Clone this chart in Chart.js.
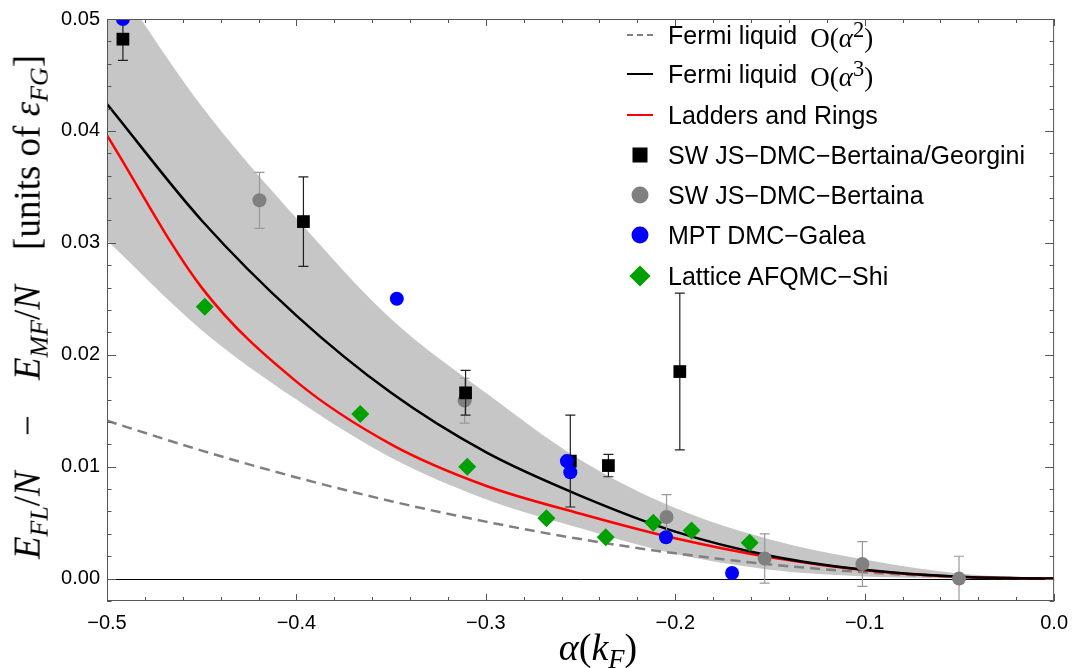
<!DOCTYPE html>
<html>
<head>
<meta charset="utf-8">
<script src="https://cdn.jsdelivr.net/npm/chart.js@4.4.0/dist/chart.umd.min.js"></script>
<style>
  body { margin: 0; background: #fff; }
  #wrap { position: relative; width: 1078px; height: 668px; overflow: hidden; }
  #chart { position: absolute; left: 0; top: 0; }
  .math { font-family: "Liberation Serif", "DejaVu Serif", serif; }
  .math sub { font-size: 0.7em; vertical-align: -0.3em; }
  .math sup { font-size: 0.7em; vertical-align: 0.6em; line-height: 0; }
  .gap { display: inline-block; width: 0.95em; }
  #ytitle { position: absolute; left: 30px; top: 307px; transform: translate(-50%, -50%) rotate(-90deg);
            white-space: nowrap; font-size: 37px; }
  #xtitle { position: absolute; left: 598px; top: 650px; transform: translate(-50%, -50%);
            white-space: nowrap; font-size: 38px; }
  .leg { position: absolute; left: 627px; height: 30px; display: flex; align-items: center;
         font-family: "Liberation Sans", Arial, sans-serif; font-size: 25px; color: #000; white-space: nowrap; }
  .sw { width: 26px; height: 30px; position: relative; margin-right: 15px; flex: none; }
  .sw .ln { position: absolute; left: 0; top: 14px; width: 26px; height: 0; border-top: 2.5px solid #000; }
  .sw .mk { position: absolute; left: 50%; top: 50%; transform: translate(-50%, -50%); }
  .leg .m { font-family: "Liberation Serif", "DejaVu Serif", serif; font-size: 27px; margin-left: 13px; }
</style>
</head>
<body>
<div id="wrap">
  <canvas id="chart" width="1078" height="668"></canvas>

  <div id="ytitle" class="math"><i>E</i><sub><i>FL</i></sub>/<i>N</i><span class="gap"></span>&minus;<span class="gap"></span><i>E</i><sub><i>MF</i></sub>/<i>N</i><span class="gap"></span>[units of <i>&epsilon;</i><sub><i>FG</i></sub>]</div>
  <div id="xtitle" class="math"><i>&alpha;</i>(<i>k</i><sub><i>F</i></sub>)</div>

  <div class="leg" style="top:20px"><span class="sw"><span class="ln" style="border-top:2.5px dashed #808080"></span></span>Fermi liquid<span class="m">O(<i>&alpha;</i><sup>2</sup>)</span></div>
  <div class="leg" style="top:59px"><span class="sw"><span class="ln"></span></span>Fermi liquid<span class="m">O(<i>&alpha;</i><sup>3</sup>)</span></div>
  <div class="leg" style="top:100px"><span class="sw"><span class="ln" style="border-top-color:#ff0000"></span></span>Ladders and Rings</div>
  <div class="leg" style="top:140px"><span class="sw"><span class="mk" style="width:15px;height:15px;background:#000"></span></span>SW JS&minus;DMC&minus;Bertaina/Georgini</div>
  <div class="leg" style="top:180px"><span class="sw"><span class="mk" style="width:17px;height:17px;border-radius:50%;background:#808080"></span></span>SW JS&minus;DMC&minus;Bertaina</div>
  <div class="leg" style="top:220px"><span class="sw"><span class="mk" style="width:17px;height:17px;border-radius:50%;background:#0000ff"></span></span>MPT DMC&minus;Galea</div>
  <div class="leg" style="top:261px"><span class="sw"><span class="mk" style="width:15px;height:15px;background:#00a000;transform:translate(-50%,-50%) rotate(45deg)"></span></span>Lattice AFQMC&minus;Shi</div>
</div>

<script>
// Axis ticks
const xTicks = [-0.5, -0.4, -0.3, -0.2, -0.1, 0.0];
const yTicks = [0.00, 0.01, 0.02, 0.03, 0.04, 0.05];

// Curves at these alpha values
const xGrid = [-0.5, -0.45, -0.4, -0.35, -0.3, -0.25, -0.2, -0.15, -0.1, -0.05, 0.0];
const fermiO2 = [0.0141, 0.01144, 0.00904, 0.00692, 0.00509, 0.00353, 0.00226, 0.00127, 0.00057, 0.00014, 0];
const fermiO3 = [0.0424, 0.0320, 0.0235, 0.0166, 0.0113, 0.0074, 0.0042, 0.00205, 0.00079, 0.00017, 0];
const ladders = [0.0396, 0.0260, 0.0176, 0.0120, 0.0083, 0.0058, 0.0036, 0.0019, 0.00075, 0.00016, 0];
const bandUpper = [0.0545, 0.0422, 0.0322, 0.0232, 0.0166, 0.0106, 0.0063, 0.0035, 0.0017, 0.00045, 0];
const bandLower = [0.0302, 0.0222, 0.0160, 0.0108, 0.0071, 0.0045, 0.0022, 0.0008, 0.0002, 0.00003, 0];

// SW JS-DMC-Bertaina/Georgini (black squares)
const squareX = [-0.4916, -0.3963, -0.3107, -0.2554, -0.2353, -0.1976];
const squareY = [0.0482, 0.0319, 0.0166, 0.0105, 0.0101, 0.0185];
const squareErr = [0.0019, 0.0040, 0.0020, 0.0041, 0.0010, 0.0070];

// SW JS-DMC-Bertaina (grey circles)
const greyX = [-0.4195, -0.3112, -0.2046, -0.1528, -0.1012, -0.0502];
const greyY = [0.0338, 0.0159, 0.0055, 0.0018, 0.0013, 0.0000];
const greyErr = [0.0025, 0.0020, 0.0020, 0.0022, 0.0020, 0.0020];

// MPT DMC-Galea (blue circles)
const blueX = [-0.4916, -0.3470, -0.2572, -0.2554, -0.2049, -0.1700];
const blueY = [0.0500, 0.0250, 0.0105, 0.0095, 0.0037, 0.0005];

// Lattice AFQMC-Shi (green diamonds)
const greenX = [-0.4484, -0.3663, -0.3098, -0.2680, -0.2367, -0.2116, -0.1914, -0.1607];
const greenY = [0.0243, 0.0147, 0.0100, 0.0054, 0.0037, 0.0050, 0.0043, 0.0032];

const pts = (xs, ys) => xs.map((x, i) => ({ x: x, y: ys[i] }));

function curve(label, ys, color, extra) {
  return Object.assign({
    type: 'line', label: label, data: pts(xGrid, ys),
    borderColor: color, borderWidth: 2.5, pointRadius: 0,
    cubicInterpolationMode: 'monotone', fill: false, clip: 0
  }, extra);
}

function markers(label, xs, ys, color, style, radius, extra) {
  return Object.assign({
    type: 'scatter', label: label, data: pts(xs, ys),
    backgroundColor: color, borderColor: color, borderWidth: 0,
    pointStyle: style, pointRadius: radius, pointHoverRadius: radius, clip: 0
  }, extra);
}

// frame with inward ticks, zero line and error bars
const framePlugin = {
  id: 'framePlugin',
  beforeDatasetsDraw(chart) {
    const { ctx, chartArea: a, scales: { y } } = chart;
    const y0 = Math.round(y.getPixelForValue(0)) + 0.5;
    ctx.save();
    ctx.strokeStyle = '#000';
    ctx.lineWidth = 1;
    ctx.beginPath();
    ctx.moveTo(a.left, y0);
    ctx.lineTo(a.right, y0);
    ctx.stroke();
    ctx.restore();
  },
  beforeDatasetDraw(chart, args) {
    const ds = chart.data.datasets[args.index];
    if (!ds.errors) return;
    const { ctx, chartArea: a, scales: { x, y } } = chart;
    ctx.save();
    ctx.beginPath();
    ctx.rect(a.left, a.top, a.right - a.left, a.bottom - a.top);
    ctx.clip();
    ctx.strokeStyle = ds.errorColor;
    ctx.lineWidth = 1.2;
    ds.data.forEach((p, i) => {
      const px = x.getPixelForValue(p.x);
      const top = y.getPixelForValue(p.y + ds.errors[i]);
      const bot = y.getPixelForValue(p.y - ds.errors[i]);
      ctx.beginPath();
      ctx.moveTo(px, top); ctx.lineTo(px, bot);
      ctx.moveTo(px - 5, top); ctx.lineTo(px + 5, top);
      ctx.moveTo(px - 5, bot); ctx.lineTo(px + 5, bot);
      ctx.stroke();
    });
    ctx.restore();
  },
  afterDraw(chart) {
    const { ctx, chartArea: a, scales: { x, y } } = chart;
    ctx.save();
    ctx.strokeStyle = '#555';
    ctx.lineWidth = 1;
    ctx.strokeRect(a.left + 0.5, a.top + 0.5, a.right - a.left - 1, a.bottom - a.top - 1);
    ctx.beginPath();
    for (let v = -0.5; v <= 0.0001; v += 0.02) {
      const major = Math.abs(v * 10 - Math.round(v * 10)) < 1e-6;
      const len = major ? 7 : 4;
      const px = Math.round(x.getPixelForValue(v)) + 0.5;
      ctx.moveTo(px, a.bottom); ctx.lineTo(px, a.bottom - len);
      ctx.moveTo(px, a.top); ctx.lineTo(px, a.top + len);
    }
    for (let v = -0.002; v <= 0.0501; v += 0.002) {
      const major = Math.abs(v * 100 - Math.round(v * 100)) < 1e-6;
      const len = major ? 9 : 4.5;
      const py = Math.round(y.getPixelForValue(v)) + 0.5;
      ctx.moveTo(a.left, py); ctx.lineTo(a.left + len, py);
      ctx.moveTo(a.right, py); ctx.lineTo(a.right - len, py);
    }
    ctx.stroke();
    ctx.restore();
  }
};

Chart.defaults.font.family = '"Liberation Sans", Arial, sans-serif';
Chart.defaults.font.size = 20;
Chart.defaults.color = '#000';

new Chart(document.getElementById('chart'), {
  type: 'scatter',
  data: {
    datasets: [
      markers('Lattice AFQMC\u2212Shi', greenX, greenY, '#00a000', 'rectRot', 9, { order: 1 }),
      markers('MPT DMC\u2212Galea', blueX, blueY, '#0000ff', 'circle', 7, { order: 2 }),
      markers('SW JS\u2212DMC\u2212Bertaina/Georgini', squareX, squareY, '#000000', 'rect', 9,
        { order: 3, errors: squareErr, errorColor: '#222' }),
      markers('SW JS\u2212DMC\u2212Bertaina', greyX, greyY, '#808080', 'circle', 7,
        { order: 4, errors: greyErr, errorColor: '#999' }),
      curve('Fermi liquid O(\u03b1\u00b3)', fermiO3, '#000000', { order: 5 }),
      curve('Ladders and Rings', ladders, '#ff0000', { order: 6 }),
      curve('Fermi liquid O(\u03b1\u00b2)', fermiO2, '#808080', { order: 7, borderDash: [10, 6] }),
      curve('band lower', bandLower, 'rgba(0,0,0,0)', { order: 9, borderWidth: 0 }),
      curve('band upper', bandUpper, 'rgba(0,0,0,0)',
        { order: 8, borderWidth: 0, fill: '-1', backgroundColor: '#c6c6c6' })
    ]
  },
  options: {
    responsive: false,
    animation: false,
    events: [],
    layout: { padding: { top: 13, right: 21, left: 0, bottom: 0 } },
    plugins: {
      legend: { display: false },
      tooltip: { enabled: false }
    },
    scales: {
      x: {
        type: 'linear', min: -0.5, max: 0,
        grid: { display: false, drawTicks: false },
        border: { display: false },
        afterBuildTicks: s => { s.ticks = xTicks.map(v => ({ value: v })); },
        afterFit: s => { s.height = 67; },
        ticks: {
          padding: 10, maxRotation: 0, autoSkip: false,
          callback: v => (v === 0 ? '0.0' : '\u2212' + Math.abs(v).toFixed(1))
        }
      },
      y: {
        type: 'linear', min: -0.002, max: 0.05,
        grid: { display: false, drawTicks: false },
        border: { display: false },
        afterBuildTicks: s => { s.ticks = yTicks.map(v => ({ value: v })); },
        afterFit: s => { s.width = 107; },
        ticks: { padding: 7, autoSkip: false, callback: v => v.toFixed(2) }
      }
    }
  },
  plugins: [framePlugin]
});
</script>
</body>
</html>
